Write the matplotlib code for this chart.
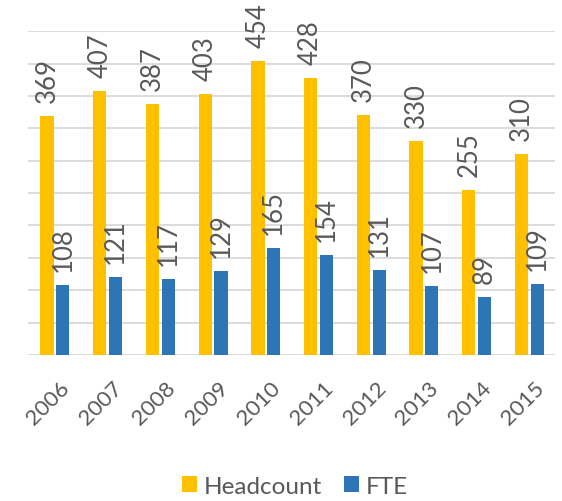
import numpy as np
import matplotlib.pyplot as plt
import matplotlib.transforms as mtransforms

plt.rcParams['font.family'] = ['Lato', 'DejaVu Sans']

years = ['2006', '2007', '2008', '2009', '2010', '2011', '2012', '2013', '2014', '2015']
headcount = [369, 407, 387, 403, 454, 428, 370, 330, 255, 310]
fte = [108, 121, 117, 129, 165, 154, 131, 107, 89, 109]

txt = '#595959'
x = np.arange(len(years))
w = 0.25

fig = plt.figure(figsize=(5.62, 5.02), dpi=100)
ax = fig.add_axes([0.05, 0.291, 0.938, 0.645])

b1 = ax.bar(x - 0.14, headcount, w, color='#FFC000', label='Headcount', zorder=3)
b2 = ax.bar(x + 0.16, fte, w, color='#2E75B6', label='FTE', zorder=3)

for bars in (b1, b2):
    for r in bars:
        ax.annotate(str(int(r.get_height())), (r.get_x() + r.get_width() / 2, r.get_height()),
                    xytext=(0, 10), textcoords='offset points', rotation=90,
                    ha='center', va='bottom', fontsize=18.5, color=txt)

ax.set_ylim(0, 500)
ax.set_xlim(-0.5, len(years) - 0.5)
ax.set_yticks(np.arange(0, 501, 50))
ax.yaxis.grid(True, color='#D9D9D9', linewidth=1.3, zorder=0)
ax.tick_params(axis='y', left=False, labelleft=False)
ax.tick_params(axis='x', length=0, pad=16)
ax.set_xticks(x)
ax.set_xticklabels(years, rotation=45, ha='right', rotation_mode='anchor',
                   fontsize=16, color=txt)
shift = mtransforms.ScaledTranslation(5 / 100, 0, fig.dpi_scale_trans)
for lab in ax.get_xticklabels():
    lab.set_transform(lab.get_transform() + shift)
for s in ax.spines.values():
    s.set_visible(False)

fig.legend(loc='lower center', bbox_to_anchor=(0.525, -0.035), ncol=2, frameon=False,
           fontsize=17.5, labelcolor=txt, handlelength=0.6, handleheight=0.6,
           columnspacing=0.9, handletextpad=0.3)

fig.savefig('out.png', dpi=100)
